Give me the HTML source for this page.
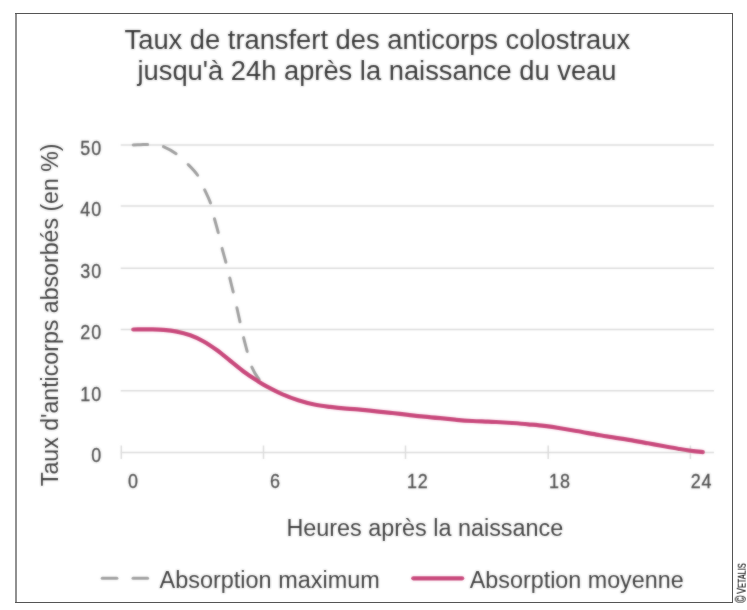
<!DOCTYPE html>
<html>
<head>
<meta charset="utf-8">
<title>Taux de transfert des anticorps colostraux</title>
<style>
html,body{margin:0;padding:0;background:#fff;}
body{width:747px;height:610px;overflow:hidden;position:relative;font-family:"Liberation Sans",sans-serif;}
svg{position:absolute;left:0;top:0;display:block;}
text{font-family:"Liberation Sans",sans-serif;}
</style>
</head>
<body>
<svg width="747" height="610" viewBox="0 0 747 610">
<defs><filter id="soft" x="-2%" y="-2%" width="104%" height="104%"><feGaussianBlur in="SourceGraphic" stdDeviation="0.8" result="b"/><feComposite in="SourceGraphic" in2="b" operator="arithmetic" k1="0" k2="0.5" k3="0.5" k4="0"/></filter><filter id="gs" x="-5%" y="-5%" width="110%" height="110%"><feOffset dx="0" dy="0"/></filter></defs>
<rect x="0" y="0" width="747" height="610" fill="#ffffff"/>
  <!-- frame -->
  <rect x="15" y="13" width="2" height="590" fill="#909090"/>
  <rect x="15" y="13" width="718" height="1" fill="#555555"/>
  <rect x="732" y="13" width="1" height="590" fill="#555555"/>
  <rect x="15" y="602" width="718" height="1" fill="#555555"/>
<g filter="url(#soft)">
  <!-- title -->
  <g fill="#363636" font-size="27.32px" text-anchor="middle">
    <text x="377.35" y="48.5">Taux de transfert des anticorps colostraux</text>
    <text x="377.0" y="79.8">jusqu'à 24h après la naissance du veau</text>
  </g>
  <!-- gridlines and ticks -->
  <g stroke="#dbdbdb" stroke-width="1.5" fill="none">
    <line x1="120.7" y1="145.0" x2="714" y2="145.0"/>
    <line x1="120.7" y1="206.0" x2="714" y2="206.0"/>
    <line x1="120.7" y1="268.3" x2="714" y2="268.3"/>
    <line x1="120.7" y1="329.6" x2="714" y2="329.6"/>
    <line x1="120.7" y1="390.8" x2="714" y2="390.8"/>
    <line x1="120.7" y1="452.6" x2="714" y2="452.6"/>
    <line x1="121.3" y1="445.5" x2="121.3" y2="459"/>
    <line x1="263.5" y1="445.5" x2="263.5" y2="459"/>
    <line x1="405.5" y1="445.5" x2="405.5" y2="459"/>
    <line x1="548.2" y1="445.5" x2="548.2" y2="459"/>
    <line x1="690.4" y1="445.5" x2="690.4" y2="459"/>
  </g>
  <!-- y labels -->
  <g fill="#4c4c4c" stroke="#4c4c4c" stroke-width="0.3" font-size="19.3px" text-anchor="end" letter-spacing="0.9">
    <text transform="translate(102.0,154.9) scale(0.93,1)">50</text>
    <text transform="translate(102.0,216.4) scale(0.93,1)">40</text>
    <text transform="translate(102.0,277.9) scale(0.93,1)">30</text>
    <text transform="translate(102.0,339.4) scale(0.93,1)">20</text>
    <text transform="translate(102.0,400.9) scale(0.93,1)">10</text>
    <text transform="translate(102.0,462.4) scale(0.93,1)">0</text>
  </g>
  <!-- x labels -->
  <g fill="#4c4c4c" stroke="#4c4c4c" stroke-width="0.3" font-size="19.3px" text-anchor="middle" letter-spacing="0.9">
    <text transform="translate(133.52,487.5) scale(0.93,1)">0</text>
    <text transform="translate(275.52,487.5) scale(0.93,1)">6</text>
    <text transform="translate(417.72,487.5) scale(0.93,1)">12</text>
    <text transform="translate(559.92,487.5) scale(0.93,1)">18</text>
    <text transform="translate(701.62,487.5) scale(0.93,1)">24</text>
  </g>
  <!-- axis titles -->
  <text x="424.85" y="535.7" fill="#3c3c3c" font-size="23.39px" text-anchor="middle">Heures après la naissance</text>
  <text transform="translate(57.7,314.8) rotate(-90)" fill="#3c3c3c" font-size="23.15px" text-anchor="middle">Taux d'anticorps absorbés (en %)</text>
  <!-- series: absorption maximum (dashed) -->
  <path fill="none" stroke="#9e9e9e" stroke-width="3.0" stroke-linecap="round" stroke-dasharray="14.4 16.2" d="M133.2,145.0 C134.4,144.9 138.0,144.8 140.5,144.7 C143.0,144.6 145.8,144.4 148.3,144.4 C150.8,144.4 153.1,144.5 155.5,144.8 C157.9,145.1 159.4,144.9 162.9,146.4 C166.4,147.9 172.4,151.0 176.5,153.9 C180.6,156.8 184.0,160.4 187.6,164.0 C191.2,167.6 195.0,171.3 197.8,175.5 C200.6,179.7 202.1,184.3 204.2,188.9 C206.3,193.5 208.7,198.0 210.4,202.8 C212.1,207.6 212.9,212.9 214.2,217.8 C215.5,222.7 216.9,227.3 218.2,232.3 C219.5,237.3 220.6,242.8 221.9,247.8 C223.2,252.8 224.6,257.4 225.9,262.3 C227.2,267.2 228.3,272.1 229.5,277.0 C230.7,281.9 232.0,286.8 233.2,291.8 C234.4,296.8 235.6,302.0 236.7,307.0 C237.8,312.0 238.9,317.0 240.0,321.8 C241.1,326.6 242.0,331.2 243.2,336.0 C244.3,340.8 245.6,345.4 246.9,350.3 C248.2,355.2 249.3,361.0 251.2,365.6 C253.1,370.2 255.7,374.8 258.2,378.2 C260.7,381.6 264.7,384.7 266.0,386.0"/>
  <!-- series: absorption moyenne -->
  <path fill="none" stroke="#c8467a" stroke-width="4.2" stroke-linecap="round" stroke-linejoin="round" d="M133.2,329.5 C136.0,329.5 145.1,329.2 150.2,329.3 C155.2,329.4 159.1,329.4 163.5,329.8 C167.9,330.2 172.4,330.7 176.9,331.6 C181.4,332.5 185.8,333.7 190.3,335.3 C194.8,336.9 199.2,339.0 203.7,341.5 C208.2,344.0 212.6,347.1 217.1,350.3 C221.6,353.6 226.0,357.4 230.5,361.0 C235.0,364.6 239.4,368.5 243.9,371.8 C248.4,375.1 253.6,378.4 257.3,380.8 C261.0,383.2 262.0,383.9 266.1,386.1 C270.2,388.3 276.8,391.8 282.1,394.1 C287.5,396.5 292.8,398.5 298.2,400.2 C303.6,401.9 308.9,403.4 314.3,404.5 C319.7,405.6 325.0,406.2 330.3,406.9 C335.6,407.6 341.4,408.2 346.4,408.6 C351.3,409.1 355.1,409.2 360.0,409.6 C364.9,410.1 370.8,410.7 376.1,411.3 C381.5,411.9 386.8,412.4 392.1,413.0 C397.5,413.6 402.8,414.3 408.2,414.9 C413.6,415.5 418.9,416.1 424.3,416.6 C429.7,417.2 435.0,417.7 440.3,418.2 C445.6,418.7 451.0,419.3 456.4,419.8 C461.8,420.3 467.2,420.7 472.5,421.0 C477.8,421.3 484.1,421.4 488.0,421.6 C491.9,421.8 492.1,421.8 496.1,422.0 C500.1,422.2 506.8,422.6 512.1,423.0 C517.5,423.4 522.8,423.8 528.2,424.3 C533.6,424.8 538.9,425.2 544.3,425.9 C549.6,426.6 554.9,427.4 560.3,428.3 C565.6,429.2 571.0,430.1 576.4,431.0 C581.8,431.9 588.6,433.2 592.5,433.9 C596.4,434.6 596.1,434.6 600.0,435.3 C603.9,436.0 610.6,437.0 616.0,437.8 C621.4,438.6 626.8,439.5 632.1,440.4 C637.4,441.3 642.6,442.3 648.0,443.3 C653.4,444.3 659.3,445.4 664.3,446.3 C669.3,447.2 673.7,448.0 678.0,448.7 C682.3,449.4 685.9,450.0 690.0,450.6 C694.1,451.2 700.7,451.9 702.8,452.2"/>
  <!-- legend -->
  <g stroke="#9e9e9e" stroke-width="3.0" stroke-linecap="round" fill="none">
    <line x1="102.2" y1="578.3" x2="116.9" y2="578.3"/>
    <line x1="133" y1="578.3" x2="147.6" y2="578.3"/>
  </g>
  <line x1="413.3" y1="578.3" x2="462.2" y2="578.3" stroke="#c8467a" stroke-width="4.2" stroke-linecap="round"/>
  <g fill="#3c3c3c">
    <text x="159.6" y="588.3" font-size="23.44px">Absorption maximum</text>
    <text x="469.8" y="588.3" font-size="23.32px">Absorption moyenne</text>
  </g>
</g>
  <!-- copyright -->
  <g transform="translate(745.7,602.8) rotate(-90) scale(0.662,1)" filter="url(#gs)" fill="#1a1a1a" stroke="#1a1a1a" stroke-width="0.2" vector-effect="non-scaling-stroke">
    <text x="0" y="0" font-size="15px">©<tspan dx="2.6" font-size="13.5px">V</tspan><tspan font-size="11px">ETALIS</tspan></text>
  </g>
</svg>
</body>
</html>
